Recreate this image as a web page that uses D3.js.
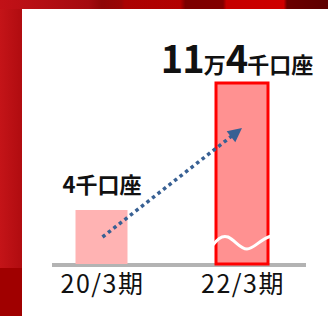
<!DOCTYPE html>
<html>
<head>
<meta charset="utf-8">
<script src="https://cdn.jsdelivr.net/npm/d3@7"></script>
<style>
  body { margin: 0; background: #fff; }
  svg { display: block; }
  text { font-family: "Noto Sans CJK JP", "Noto Sans", sans-serif; fill: #111; }
</style>
</head>
<body>
<div id="chartContainer"></div>
<script>
var categories = ["20/3期", "22/3期"]
var values = [4000, 114000]
var valueLabels = [
    [{t: "4", big: false}, {t: "千口座", big: false}],
    [{t: "11", big: true}, {t: "万", big: false}, {t: "4", big: true}, {t: "千口座", big: false}]
]
var arrowFrom = 2000
var arrowTo = 75000

var width = 328, height = 316

var svg = d3.select('#chartContainer').append('svg')
    .attr('width', width)
    .attr('height', height)

// frame: red strips on top and left
var defs = svg.append('defs')
var topGrad = defs.append('linearGradient').attr('id', 'topGrad')
var topStops = [
    [0, '#c21117'], [0.27, '#a50b10'], [0.31, '#8e0707'], [0.37, '#9a0505'],
    [0.38, '#aa0202'], [0.55, '#b30000'], [0.565, '#7c0000'], [0.68, '#820000'],
    [0.69, '#c40000'], [0.865, '#cf0000'], [0.875, '#6a0000'], [1, '#5e0000']
]
topGrad.selectAll('stop').data(topStops).enter().append('stop')
    .attr('offset', function(d) { return d[0] })
    .attr('stop-color', function(d) { return d[1] })

var leftGrad = defs.append('linearGradient').attr('id', 'leftGrad')
leftGrad.append('stop').attr('offset', 0).attr('stop-color', '#c41418')
leftGrad.append('stop').attr('offset', 1).attr('stop-color', '#b00c10')

svg.append('rect').attr('x', 0).attr('y', 0).attr('width', width).attr('height', 9)
    .attr('fill', 'url(#topGrad)')
svg.append('rect').attr('x', 0).attr('y', 9).attr('width', 22).attr('height', 259)
    .attr('fill', 'url(#leftGrad)')
svg.append('rect').attr('x', 0).attr('y', 268).attr('width', 22).attr('height', 48)
    .attr('fill', '#a00000')

// scales
var xScale = d3.scalePoint()
    .domain(categories)
    .range([101.5, 242])

// broken axis: the tall bar is cut, so the scale is piecewise
var yScale = d3.scaleLinear()
    .domain([0, 4000, 114000])
    .range([264, 210, 83])

var barWidth = 52

// baseline
svg.append('rect')
    .attr('x', 52).attr('y', 263)
    .attr('width', 254).attr('height', 4)
    .attr('fill', '#b3b3b3')

// bars
svg.selectAll('.bar')
    .data(values)
    .enter()
    .append('rect')
    .attr('class', 'bar')
    .attr('x', function(d, i) { return xScale(categories[i]) - barWidth / 2 })
    .attr('y', function(d) { return yScale(d) })
    .attr('width', barWidth)
    .attr('height', function(d) { return yScale(0) - yScale(d) })
    .attr('fill', function(d, i) { return i == 0 ? '#ffb3b3' : '#ff9191' })
    .attr('stroke', function(d, i) { return i == 0 ? 'none' : '#ff0000' })
    .attr('stroke-width', 3)

// wave break on the tall bar, just above the base
var bx = xScale(categories[1]) - barWidth / 2 - 3
var by = yScale(0) - 22
var wave = d3.path()
wave.moveTo(bx, by + 3)
wave.bezierCurveTo(bx + 5, by - 4, bx + 10, by - 7, bx + 15, by - 5)
wave.bezierCurveTo(bx + 22, by - 2, bx + 27, by + 7, bx + 34, by + 7)
wave.bezierCurveTo(bx + 41, by + 7, bx + 46, by - 2, bx + 58, by - 6)
svg.append('path')
    .attr('d', wave.toString())
    .attr('fill', 'none')
    .attr('stroke', '#fff')
    .attr('stroke-width', 3)

// arrow
var x0 = xScale(categories[0]) + 1, y0 = yScale(arrowFrom)
var x1 = xScale(categories[1]), y1 = yScale(arrowTo)
var dx = x1 - x0, dy = y1 - y0, len = Math.sqrt(dx * dx + dy * dy)
var ux = dx / len, uy = dy / len
var headLen = 14, headW = 7
var hx = x1 - ux * headLen, hy = y1 - uy * headLen

svg.append('line')
    .attr('x1', x0).attr('y1', y0)
    .attr('x2', hx + ux * 2).attr('y2', hy + uy * 2)
    .attr('stroke', '#386093')
    .attr('stroke-width', 3.5)
    .attr('stroke-dasharray', '3.5,3.5')

svg.append('path')
    .attr('d', 'M' + x1 + ',' + y1 +
        'L' + (hx - uy * headW) + ',' + (hy + ux * headW) +
        'L' + (hx + uy * headW) + ',' + (hy - ux * headW) + 'Z')
    .attr('fill', '#386093')

// value labels
var labelY = [193, 73]
var labelCx = [102, 237]
svg.selectAll('.vlabel')
    .data(valueLabels)
    .enter()
    .append('text')
    .attr('class', 'vlabel')
    .attr('x', function(d, i) { return labelCx[i] })
    .attr('y', function(d, i) { return labelY[i] })
    .attr('text-anchor', 'middle')
    .attr('font-weight', 'bold')
    .each(function(parts) {
        d3.select(this).selectAll('tspan')
            .data(parts)
            .enter()
            .append('tspan')
            .attr('font-size', function(p) { return p.big ? '38px' : '22px' })
            .attr('letter-spacing', function(p) { return p.big ? '-1px' : '0px' })
            .text(function(p) { return p.t })
    })

// category labels
svg.selectAll('.clabel')
    .data(categories)
    .enter()
    .append('text')
    .attr('class', 'clabel')
    .attr('x', function(d) { return xScale(d) + 1 })
    .attr('y', 293)
    .attr('text-anchor', 'middle')
    .attr('font-size', '25px')
    .attr('letter-spacing', '1.5px')
    .text(function(d) { return d })
</script>
</body>
</html>
